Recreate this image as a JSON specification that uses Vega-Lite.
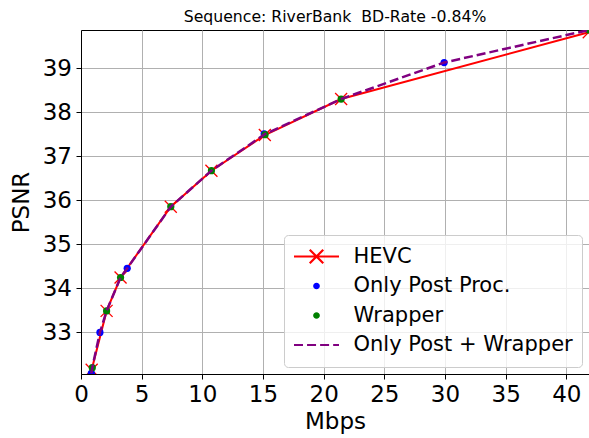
{
  "$schema": "https://vega.github.io/schema/vega-lite/v6.json",
  "width": 508,
  "height": 344,
  "autosize": {"type": "none"},
  "padding": {"left": 81, "top": 30, "right": 0, "bottom": 64},
  "background": "white",
  "title": {
    "text": "Sequence: RiverBank\u00a0 BD-Rate -0.84%",
    "font": "DejaVu Sans",
    "fontSize": 15.7,
    "fontWeight": "normal",
    "color": "black",
    "anchor": "middle",
    "offset": 4
  },
  "config": {
    "view": {"stroke": "black", "strokeWidth": 1},
    "axis": {
      "labelFont": "DejaVu Sans",
      "labelFontSize": 23,
      "labelColor": "black",
      "titleFont": "DejaVu Sans",
      "titleFontSize": 23,
      "titleFontWeight": "normal",
      "titleColor": "black",
      "domainColor": "black",
      "domainWidth": 1,
      "tickColor": "black",
      "tickSize": 5,
      "tickWidth": 1,
      "gridColor": "#b0b0b0",
      "gridWidth": 1,
      "labelPadding": 4.5,
      "labelFlush": false,
      "labelOverlap": false
    },
    "legend": {
      "title": null,
      "orient": "none",
      "legendX": 203,
      "legendY": 205,
      "direction": "vertical",
      "labelFont": "DejaVu Sans",
      "labelFontSize": 21,
      "labelColor": "black",
      "labelLimit": 400,
      "labelOffset": 13,
      "symbolSize": 2025,
      "symbolOpacity": 1,
      "symbolStrokeWidth": 2.2,
      "clipHeight": 26,
      "rowPadding": 3.5,
      "padding": 8.5,
      "fillColor": "rgba(255,255,255,0.8)",
      "strokeColor": "#cccccc",
      "cornerRadius": 4
    }
  },
  "data": {
    "values": [
      {"series": "HEVC", "mbps": 0.88, "psnr": 32.14},
      {"series": "HEVC", "mbps": 2.11, "psnr": 33.48},
      {"series": "HEVC", "mbps": 3.26, "psnr": 34.24},
      {"series": "HEVC", "mbps": 7.40, "psnr": 35.85},
      {"series": "HEVC", "mbps": 10.75, "psnr": 36.67},
      {"series": "HEVC", "mbps": 15.15, "psnr": 37.48},
      {"series": "HEVC", "mbps": 21.44, "psnr": 38.30},
      {"series": "HEVC", "mbps": 41.85, "psnr": 39.82},
      {"series": "Only Post Proc.", "mbps": 0.85, "psnr": 32.06},
      {"series": "Only Post Proc.", "mbps": 1.56, "psnr": 32.99},
      {"series": "Only Post Proc.", "mbps": 3.81, "psnr": 34.45},
      {"series": "Only Post Proc.", "mbps": 15.10, "psnr": 37.51},
      {"series": "Only Post Proc.", "mbps": 29.93, "psnr": 39.13},
      {"series": "Wrapper", "mbps": 0.93, "psnr": 32.19},
      {"series": "Wrapper", "mbps": 2.11, "psnr": 33.48},
      {"series": "Wrapper", "mbps": 3.26, "psnr": 34.24},
      {"series": "Wrapper", "mbps": 7.40, "psnr": 35.85},
      {"series": "Wrapper", "mbps": 10.75, "psnr": 36.67},
      {"series": "Wrapper", "mbps": 15.17, "psnr": 37.49},
      {"series": "Wrapper", "mbps": 21.44, "psnr": 38.30},
      {"series": "Wrapper", "mbps": 41.87, "psnr": 39.87},
      {"series": "Only Post + Wrapper", "mbps": 0.85, "psnr": 32.06},
      {"series": "Only Post + Wrapper", "mbps": 0.93, "psnr": 32.19},
      {"series": "Only Post + Wrapper", "mbps": 1.56, "psnr": 32.99},
      {"series": "Only Post + Wrapper", "mbps": 2.11, "psnr": 33.48},
      {"series": "Only Post + Wrapper", "mbps": 3.26, "psnr": 34.24},
      {"series": "Only Post + Wrapper", "mbps": 3.81, "psnr": 34.45},
      {"series": "Only Post + Wrapper", "mbps": 7.40, "psnr": 35.85},
      {"series": "Only Post + Wrapper", "mbps": 10.75, "psnr": 36.67},
      {"series": "Only Post + Wrapper", "mbps": 15.15, "psnr": 37.50},
      {"series": "Only Post + Wrapper", "mbps": 21.44, "psnr": 38.30},
      {"series": "Only Post + Wrapper", "mbps": 29.93, "psnr": 39.13},
      {"series": "Only Post + Wrapper", "mbps": 41.87, "psnr": 39.87}
    ]
  },
  "encoding": {
    "x": {
      "field": "mbps",
      "type": "quantitative",
      "scale": {"domain": [0, 41.87], "nice": false, "zero": false},
      "axis": {"title": "Mbps", "values": [0, 5, 10, 15, 20, 25, 30, 35, 40], "titlePadding": 4}
    },
    "y": {
      "field": "psnr",
      "type": "quantitative",
      "scale": {"domain": [32.045, 39.87], "nice": false, "zero": false},
      "axis": {"title": "PSNR", "values": [33, 34, 35, 36, 37, 38, 39], "titlePadding": 9}
    }
  },
  "layer": [
    {
      "transform": [{"filter": "datum.series === 'HEVC'"}],
      "mark": {"type": "line", "color": "#ff0000", "strokeWidth": 2, "clip": true},
      "encoding": {"order": {"field": "mbps"}}
    },
    {
      "transform": [{"filter": "datum.series === 'HEVC'"}],
      "mark": {"type": "point", "shape": "M-1,-1L1,1M-1,1L1,-1", "size": 144, "filled": false, "stroke": "#ff0000", "strokeWidth": 1.3, "opacity": 1, "clip": true}
    },
    {
      "transform": [{"filter": "datum.series === 'Only Post Proc.'"}],
      "mark": {"type": "circle", "size": 52, "opacity": 1, "color": "#0000ff", "clip": true}
    },
    {
      "transform": [{"filter": "datum.series === 'Wrapper'"}],
      "mark": {"type": "circle", "size": 52, "opacity": 1, "color": "#008000", "clip": true}
    },
    {
      "transform": [{"filter": "datum.series === 'Only Post + Wrapper'"}],
      "mark": {"type": "line", "color": "#800080", "strokeWidth": 2.5, "strokeDash": [9, 4], "clip": true},
      "encoding": {"order": {"field": "mbps"}}
    },
    {
      "mark": {"type": "point", "filled": true, "opacity": 0, "size": 1, "clip": true},
      "encoding": {
        "fill": {
          "field": "series",
          "type": "nominal",
          "scale": {
            "domain": ["HEVC", "Only Post Proc.", "Wrapper", "Only Post + Wrapper"],
            "range": ["#ff0000", "#0000ff", "#008000", "#800080"]
          },
          "legend": {"title": null}
        },
        "stroke": {
          "field": "series",
          "type": "nominal",
          "scale": {
            "domain": ["HEVC", "Only Post Proc.", "Wrapper", "Only Post + Wrapper"],
            "range": ["#ff0000", "#0000ff", "#008000", "#800080"]
          },
          "legend": {"title": null}
        },
        "shape": {
          "field": "series",
          "type": "nominal",
          "scale": {
            "domain": ["HEVC", "Only Post Proc.", "Wrapper", "Only Post + Wrapper"],
            "range": [
              "M-1,0H1M-0.3,-0.3L0.3,0.3M-0.3,0.3L0.3,-0.3",
              "M-0.1,0A0.1,0.1,0,1,1,0.1,0A0.1,0.1,0,1,1,-0.1,0Z",
              "M-0.1,0A0.1,0.1,0,1,1,0.1,0A0.1,0.1,0,1,1,-0.1,0Z",
              "M-1,0H-0.6M-0.42,0H-0.02M0.16,0H0.56M0.74,0H1"
            ]
          },
          "legend": {"title": null}
        }
      }
    }
  ]
}
